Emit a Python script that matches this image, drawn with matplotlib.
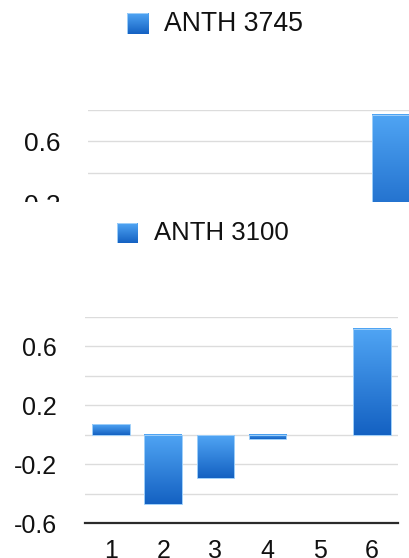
import numpy as np
import matplotlib.pyplot as plt
from matplotlib.colors import LinearSegmentedColormap
from matplotlib.patches import Rectangle
from matplotlib.ticker import MultipleLocator

plt.rcParams['font.family'] = ['Liberation Sans', 'DejaVu Sans']

W, H = 409, 558

# ANTH 3100, one bar per week
weeks = [1, 2, 3, 4, 5, 6]
anth3100 = [0.07, -0.47, -0.29, -0.03, 0.0, 0.72]

# ANTH 3745, only the last week shows above the cut
anth3745_weeks = [6]
anth3745 = [0.77]

y_labels = [-0.6, -0.2, 0.2, 0.6]
y_labels_top = [0.2, 0.6]

blues = LinearSegmentedColormap.from_list('bar_blue', ['#1461c2', '#50a5f4'])
ramp = np.linspace(0, 1, 256).reshape(-1, 1)


def px_box(left, top, right, bottom):
    return [left / W, 1 - bottom / H, (right - left) / W, (bottom - top) / H]


def gradient_bars(ax, x, vals, width=0.72):
    bars = ax.bar(x, vals, width=width, facecolor='none',
                  edgecolor='#9fcff9', linewidth=0.7, zorder=3)
    for b, v in zip(bars, vals):
        if v == 0:
            b.set_linewidth(0)
            continue
        x0, y0 = b.get_x(), b.get_y()
        x1, y1 = x0 + b.get_width(), y0 + b.get_height()
        ax.imshow(ramp, cmap=blues, aspect='auto', origin='lower',
                  extent=[x0, x1, min(y0, y1), max(y0, y1)], zorder=2)
    return bars


def style_axes(ax, ticks, fontsize, ypad):
    ax.set_xlim(0.5, 6.5)
    ax.set_ylim(-0.6, 0.8)
    ax.set_xticks(weeks)
    ax.set_yticks(ticks)
    ax.set_yticklabels([f'{v:.1f}' for v in ticks])
    ax.yaxis.set_minor_locator(MultipleLocator(0.2))
    ax.grid(axis='y', which='both', color='#dcdcdc', linewidth=1.0, zorder=1)
    ax.set_axisbelow(True)
    for side in ['top', 'right', 'left']:
        ax.spines[side].set_visible(False)
    ax.spines['bottom'].set_color('#2b2b2b')
    ax.spines['bottom'].set_linewidth(1.6)
    ax.spines['bottom'].set_zorder(4)
    ax.tick_params(axis='both', which='both', length=0, labelsize=fontsize,
                   labelcolor='#111111')
    ax.tick_params(axis='y', pad=ypad)
    ax.tick_params(axis='x', pad=11)


def legend_key(fig, box, label, text_x, text_y, fontsize):
    kax = fig.add_axes(px_box(*box))
    kax.imshow(ramp, cmap=blues, aspect='auto', origin='lower',
               extent=[0, 1, 0, 1])
    kax.add_patch(Rectangle((0, 0), 1, 1, facecolor='none',
                            edgecolor='#9fcff9', linewidth=0.7))
    kax.set_xlim(0, 1)
    kax.set_ylim(0, 1)
    kax.axis('off')
    kax.set_zorder(5)
    fig.text(text_x / W, 1 - text_y / H, label, fontsize=fontsize,
             color='#111111', va='center', ha='left', zorder=5)


fig = plt.figure(figsize=(W / 100, H / 100), dpi=100)

# upper chart, cut off part way down
ax_top = fig.add_axes(px_box(88.3, 110, 419.5, 329))
gradient_bars(ax_top, anth3745_weeks, anth3745)
style_axes(ax_top, y_labels_top, 19, 20)
ax_top.tick_params(axis='x', labelbottom=False)
ax_top.set_zorder(0)

# blank strip hiding the rest of the upper chart
fig.add_artist(Rectangle((0, 0), 1, 1 - 202 / H, transform=fig.transFigure,
                         facecolor='white', edgecolor='none', zorder=1))

# lower chart
ax = fig.add_axes(px_box(85, 316.7, 398, 523.3))
gradient_bars(ax, weeks, anth3100)
style_axes(ax, y_labels, 18, 20)
ax.set_zorder(2)
ax.patch.set_alpha(0)

legend_key(fig, (126.7, 13.3, 148, 34.3), 'ANTH 3745', 164, 24, 19.2)
legend_key(fig, (117.3, 222.7, 137.3, 242.7), 'ANTH 3100', 154, 232.7, 18.5)

fig.savefig('out.png', dpi=100)
